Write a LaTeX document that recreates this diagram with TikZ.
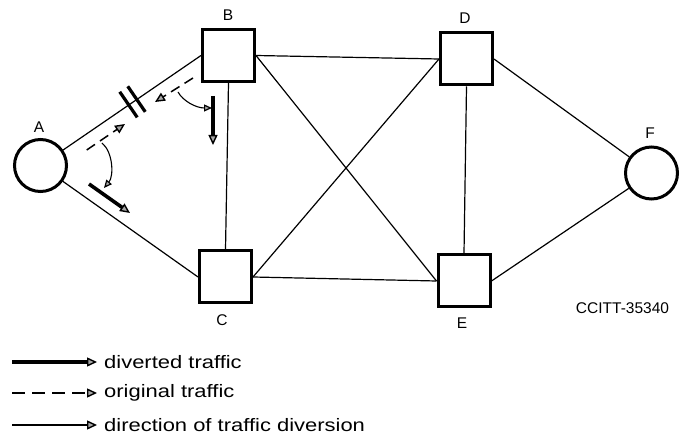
\documentclass[tikz,border=0pt]{standalone}
\usepackage{fontspec}
\setmainfont{Liberation Sans}
\newfontfamily\legendfont[FakeStretch=1.22]{Liberation Sans}
\usetikzlibrary{arrows.meta,calc}
\begin{document}
\begin{tikzpicture}[x=1pt,y=-1pt,
  sq/.style={draw, line width=3pt, minimum size=52pt, inner sep=0pt},
  ci/.style={draw, circle, line width=3pt, minimum size=52pt, inner sep=0pt},
  lbl/.style={font=\fontsize{15.5}{15.5}\selectfont, inner sep=0pt},
  leg/.style={font=\legendfont\fontsize{18}{18}\selectfont, inner sep=0pt, anchor=west},
  link/.style={line width=1.2pt},
  gtip/.style={-{Triangle[length=10pt,width=9pt,line width=1.4pt,fill=gray!70]}},
  stip/.style={-{Triangle[length=8pt,width=7pt,line width=1.2pt,fill=gray!70]}},
  diverted/.style={line width=3.6pt, gtip},
  original/.style={line width=1.5pt, dash pattern=on 10pt off 6pt, gtip},
  diversion/.style={line width=1.1pt, stip},
  bar/.style={line width=3.2pt}
]
\useasboundingbox (0,0) rectangle (680,443);

% stations
\node[ci] (A) at (40.5,165.5) {};
\node[sq] (B) at (228.5,55.5) {};
\node[sq] (C) at (225.5,277) {};
\node[sq] (D) at (466.5,59) {};
\node[sq] (E) at (464,281) {};
\node[ci] (F) at (651.5,173) {};

% labels
\node[lbl] (lA) at (39,127) {A};
\node[lbl] (lB) at (228,15) {B};
\node[lbl] (lC) at (222,320) {C};
\node[lbl] (lD) at (465,18) {D};
\node[lbl] (lE) at (462,323) {E};
\node[lbl] (lF) at (650,133) {F};
\node[lbl] (ref) at (622.5,308) {CCITT-35340};

% links
\draw[link] (A) -- (B.west);
\draw[link] (A) -- (C.west);
\draw[link] (B.south) -- (C.north);
\draw[link] (B.east) -- (D.west);
\draw[link] (B.east) -- (E.west);
\draw[link] (C.east) -- (D.west);
\draw[link] (C.east) -- (E.west);
\draw[link] (D.south) -- (E.north);
\draw[link] (D.east) -- (F);
\draw[link] (E.east) -- (F);

% break marks on A-B
\coordinate (p1) at ($(A)!0.55!(B.west)$);
\coordinate (p2) at ($(A)!0.6!(B.west)$);
\draw[bar] ($(p1)!16pt!90:(B.west)$) -- ($(p1)!15pt!-90:(B.west)$);
\draw[bar] ($(p2)!16pt!90:(B.west)$) -- ($(p2)!15pt!-90:(B.west)$);

% annotation arrows
\coordinate (o1s) at (86.7,150);
\coordinate (o1e) at (125,124);
\coordinate (o2s) at (193,78);
\coordinate (o2e) at (155,102);
\draw[original] (o1s) -- (o1e);
\draw[original] (o2s) -- (o2e);

\coordinate (d1s) at (89,184);
\coordinate (d1e) at (130,213);
\coordinate (d2s) at (213,96);
\coordinate (d2e) at (213,145);
\draw[diverted] (d1s) -- (d1e);
\draw[diverted] (d2s) -- (d2e);

\coordinate (c1s) at (102,143);
\coordinate (c1e) at (104,188);
\coordinate (c2s) at (178,92);
\coordinate (c2e) at (212,108);
\draw[diversion] (c1s) .. controls (113,152) and (114,176) .. (c1e);
\draw[diversion] (c2s) .. controls (183,101) and (196,108) .. (c2e);

% legend
\coordinate (l1s) at (12,362);
\coordinate (l1e) at (97,362);
\coordinate (l2s) at (12,393);
\coordinate (l2e) at (97,393);
\coordinate (l3s) at (12,425);
\coordinate (l3e) at (97,425);
\draw[diverted] (l1s) -- (l1e);
\draw[original, dash pattern=on 13pt off 7pt] (l2s) -- (l2e);
\draw[line width=1.2pt, gtip] (l3s) -- (l3e);
\node[leg] (t1) at (104,362) {diverted traffic};
\node[leg] (t2) at (104,393) {original traffic};
\node[leg] (t3) at (104,425) {direction of traffic diversion};
\end{tikzpicture}
\end{document}
